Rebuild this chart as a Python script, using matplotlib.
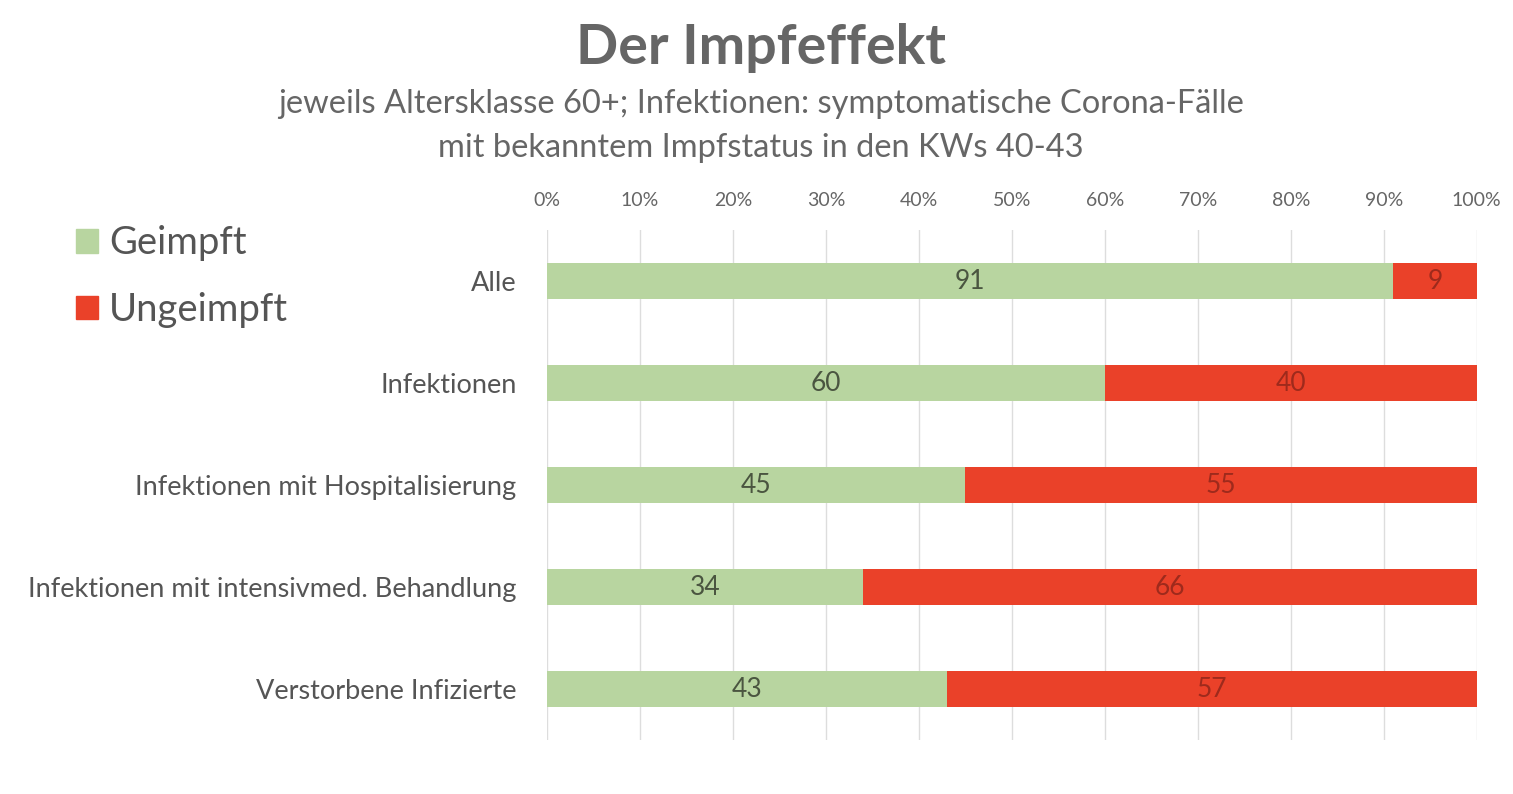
import matplotlib
matplotlib.use('Agg')
import matplotlib.pyplot as plt
from matplotlib.patches import Patch

plt.rcParams['font.family'] = ['Lato', 'DejaVu Sans']

# values (percent)
categories = ['Alle', 'Infektionen', 'Infektionen mit Hospitalisierung',
              'Infektionen mit intensivmed. Behandlung', 'Verstorbene Infizierte']
geimpft = [91, 60, 45, 34, 43]
ungeimpft = [9, 40, 55, 66, 57]
ticks = [0, 10, 20, 30, 40, 50, 60, 70, 80, 90, 100]

green = '#b8d5a0'
red = '#ea4129'

fig = plt.figure(figsize=(15.13, 7.94), dpi=100)
ax = fig.add_axes([0.3615, 0.068, 0.6145, 0.642])

y = list(range(len(categories)))
ax.barh(y, geimpft, height=0.35, color=green, zorder=2)
ax.barh(y, ungeimpft, left=geimpft, height=0.35, color=red, zorder=2)

for i in y:
    ax.text(geimpft[i] / 2, i, str(geimpft[i]), ha='center', va='center',
            fontsize=19, color='#4a5540', zorder=3)
    ax.text(geimpft[i] + ungeimpft[i] / 2, i, str(ungeimpft[i]), ha='center',
            va='center', fontsize=19, color='#9e2a1c', zorder=3)

ax.set_xlim(0, 100)
ax.set_ylim(len(categories) - 0.5, -0.5)
ax.set_xticks(ticks)
ax.set_xticklabels([f'{t}%' for t in ticks], fontsize=14, color='#666666')
ax.xaxis.tick_top()
ax.set_yticks(y)
ax.set_yticklabels(categories, fontsize=19.5, color='#555555')
ax.tick_params(axis='x', length=0, pad=15)
ax.tick_params(axis='y', length=0, pad=22)
ax.grid(axis='x', color='#dddddd', linewidth=1, zorder=0)
for s in ax.spines.values():
    s.set_visible(False)

fig.text(0.503, 0.940, 'Der Impfeffekt', ha='center', va='center',
         fontsize=40, fontweight='bold', color='#666666')
fig.text(0.503, 0.869, 'jeweils Altersklasse 60+; Infektionen: symptomatische Corona-Fälle',
         ha='center', va='center', fontsize=23.5, color='#666666')
fig.text(0.503, 0.814, 'mit bekanntem Impfstatus in den KWs 40-43',
         ha='center', va='center', fontsize=23.5, color='#666666')

handles = [Patch(color=green, label='Geimpft'), Patch(color=red, label='Ungeimpft')]
fig.legend(handles=handles, loc='upper left', bbox_to_anchor=(0.05, 0.716),
           frameon=False, fontsize=27.5, labelcolor='#555555', borderpad=0,
           borderaxespad=0, handlelength=0.58, handleheight=0.58,
           handletextpad=0.3, labelspacing=0.8)

fig.savefig('out.png', dpi=100)
